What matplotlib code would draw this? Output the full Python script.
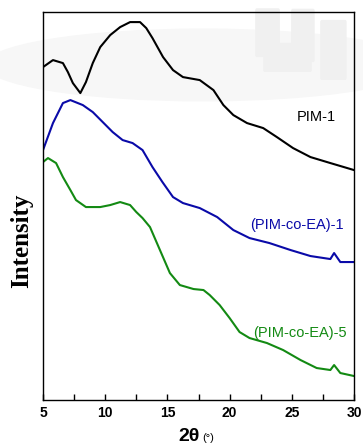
import matplotlib.pyplot as plt
from matplotlib.patches import FancyBboxPatch, Ellipse

# data (2theta in degrees, intensity in arbitrary units)
x_pim1 = [5.0, 5.8, 6.6, 7.0, 7.4, 8.0, 8.45, 9.0, 9.6, 10.4, 11.2, 12.0, 12.8,
          13.3, 13.8, 14.65, 15.45, 16.25, 17.6, 18.7, 19.5, 20.3, 21.4, 22.7,
          23.8, 25.1, 26.5, 28.1, 30.0]
y_pim1 = [333, 340, 337, 328, 317, 307, 318, 337, 353, 365, 373, 378, 378,
          372, 362, 343, 330, 323, 320, 310, 295, 285, 277, 272,
          263, 252, 243, 237, 230]

x_ea1 = [5.0, 5.8, 6.6, 7.2, 8.2, 9.0, 9.8, 10.6, 11.4, 12.2, 13.0, 13.8, 14.6,
         15.45, 16.25, 17.6, 19.0, 20.3, 21.6, 23.2, 24.9, 26.5, 28.1, 28.4, 28.9, 30.0]
y_ea1 = [250, 277, 297, 300, 295, 288, 278, 268, 260, 257, 250, 233, 218,
         203, 197, 192, 183, 170, 162, 157, 150, 144, 141, 147, 138, 138]

x_ea5 = [5.0, 5.4, 6.05, 6.6, 7.2, 7.65, 8.45, 9.6, 10.4, 11.2, 12.0, 12.5, 13.0,
         13.6, 14.4, 15.2, 16.0, 17.1, 17.9, 18.4, 19.2, 20.0, 20.8, 21.6, 23.0,
         24.3, 25.7, 27.0, 28.1, 28.4, 28.9, 30.0]
y_ea5 = [238, 242, 237, 223, 210, 200, 193, 193, 195, 198, 195, 188, 182,
         173, 150, 127, 115, 111, 110, 105, 95, 82, 68, 62, 57,
         50, 40, 32, 30, 35, 27, 24]

xticks = [5, 10, 15, 20, 25, 30]

plt.rcParams['font.family'] = 'Liberation Sans'
fig = plt.figure(figsize=(3.63, 4.48), dpi=100)

# faint watermark behind the plot
fig.patches.append(Ellipse((0.56, 0.855), 1.2, 0.16, transform=fig.transFigure,
                           color='#f7f7f7', zorder=-2))
for (x0, y0, w, h) in [(0.708, 0.877, 0.058, 0.1), (0.807, 0.866, 0.055, 0.11),
                       (0.73, 0.844, 0.124, 0.056), (0.887, 0.826, 0.063, 0.125)]:
    fig.patches.append(FancyBboxPatch((x0, y0), w, h, boxstyle='round,pad=0.003',
                                      transform=fig.transFigure, color='#f0f0f0', zorder=-1))

ax = fig.add_axes([0.1185, 0.1071, 0.8567, 0.8659])
ax.set_zorder(1)
ax.patch.set_alpha(0)
ax.plot(x_pim1, y_pim1, color='black', lw=1.5)
ax.plot(x_ea1, y_ea1, color='#0a0aa8', lw=1.5)
ax.plot(x_ea5, y_ea5, color='#138a13', lw=1.5)

ax.set_xlim(5, 30)
ax.set_ylim(0, 388)
ax.set_xticks(xticks)
ax.set_xticks([7.5, 12.5, 17.5, 22.5, 27.5], minor=True)
ax.set_yticks([])
ax.tick_params(axis='x', which='both', direction='in', length=4, width=1, pad=4,
               labelsize=10)
for lab in ax.get_xticklabels():
    lab.set_fontweight('bold')
for s in ax.spines.values():
    s.set_linewidth(1)

ax.text(26.95, 283, 'PIM-1', color='black', fontsize=10.5, ha='center', va='center')
ax.text(25.4, 175, '(PIM-co-EA)-1', color='#0a0aa8', fontsize=10.5, ha='center', va='center')
ax.text(25.65, 67, '(PIM-co-EA)-5', color='#138a13', fontsize=10.5, ha='center', va='center')

fig.text(22 / 363, 1 - 241 / 448, 'Intensity', rotation=90, fontsize=18, fontweight='bold',
         family='Liberation Serif', ha='center', va='center')
fig.text(200 / 363, 1 - 441 / 448, '2θ', fontsize=14, fontweight='bold', ha='right', va='baseline')
fig.text(202 / 363, 1 - 441 / 448, '(°)', fontsize=8, ha='left', va='baseline')

plt.savefig('out.png', dpi=100)
